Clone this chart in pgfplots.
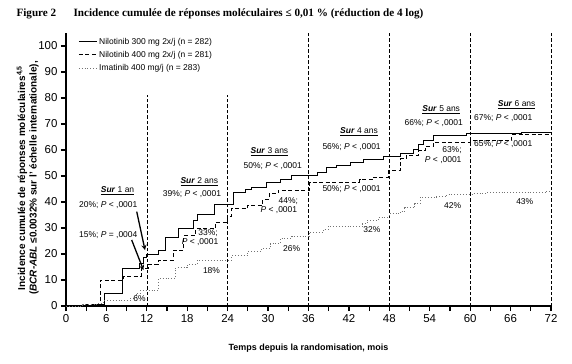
\documentclass[border=0pt]{standalone}
\usepackage{pgfplots}
\pgfplotsset{compat=1.18}
\usepackage{fontspec}
\setmainfont{Liberation Sans}
\newfontfamily\titlefont{Liberation Serif}
\definecolor{imag}{gray}{0.45}
\newcommand{\ann}{\fontsize{8.5}{10}\selectfont}
\newcommand{\sur}[1]{\underline{\textbf{\textit{Sur}} #1}}
\begin{document}
\begin{tikzpicture}
\useasboundingbox (-66bp,-58bp) rectangle (506bp,306bp);
\begin{axis}[
  at={(0,0)}, anchor=south west,
  scale only axis, width=485bp, height=273bp,
  xmin=0, xmax=72, ymin=0, ymax=105,
  axis x line=bottom, axis y line=left,
  axis line style={-, line width=1.4pt},
  xtick={0,6,...,72}, minor xtick={3,9,...,69},
  ytick={0,10,...,100},
  tick align=outside,
  major tick length=5bp, minor tick length=5bp,
  tick style={line width=1.2pt, black},
  /pgf/number format/assume math mode=true,
  tick label style={font=\fontsize{11.5}{12}\selectfont},
  xlabel={\textbf{Temps depuis la randomisation, mois}},
  xlabel style={font=\fontsize{9}{10}\selectfont, at={(axis description cs:0.5,0)}, anchor=north, yshift=-34bp},
  clip=false,
  legend style={at={(0.025,0.99)}, anchor=north west, draw=none, fill=none,
    font=\fontsize{8.5}{10}\selectfont, row sep=1.5pt, inner sep=0pt,
    nodes={inner sep=2pt}},
  legend cell align=left,
  legend image code/.code={\draw[#1] (0bp,0bp) -- (18bp,0bp);},
]
\draw[black, line width=0.6pt, dash pattern=on 3.5bp off 2bp] (axis cs:12,0) -- (axis cs:12,81);
\draw[black, line width=0.6pt, dash pattern=on 3.5bp off 2bp] (axis cs:24,0) -- (axis cs:24,81);
\foreach \xv in {36,48,60,72}{
  \edef\tmp{\noexpand\draw[black, line width=0.6pt, dash pattern=on 3.5bp off 2bp] (axis cs:\xv,0) -- (axis cs:\xv,105);}
  \tmp
}
\addplot[const plot, black, line width=0.9pt] coordinates {
(0,0) (4,0.7) (5.7,5) (8.4,14.4) (10.9,16.5) (11.5,18.5) (11.9,20) (13.7,21.4) (14.8,26.2) (16.7,29.7) (18.9,33) (19.5,35.4) (22.1,39) (24.8,43.6) (26.6,45) (27.5,45.5) (29.8,47.6) (31.8,48.7) (33.5,50.2) (37.3,51.5) (38.7,53.1) (40.2,54) (42.2,55.3) (44.2,56.2) (47.1,57.5) (49.6,58.7) (51.6,60.4) (52.3,62.3) (53.1,63.6) (54.5,65.5) (59.5,66.2) (67.6,66.8) (72,66.8)};
\addlegendentry{Nilotinib 300 mg 2x/j (n = 282)}
\addplot[const plot, black, line width=0.9pt, dash pattern=on 4bp off 2.5bp] coordinates {
(0,0) (3,0.5) (5.1,10) (8.6,11.5) (11.2,14.5) (12.2,16) (13.7,17.6) (15.9,21.5) (17.5,27) (19.2,29.7) (22.2,32.2) (23.9,34.5) (24.5,37.5) (27,38.7) (29.2,41) (30.2,43.2) (31.5,44.5) (36.2,47.6) (43.6,48.5) (45.6,49.5) (47.9,52.1) (49.6,56.6) (50.5,57.9) (52.3,59.8) (53.3,61.5) (54.5,62.9) (60,63.6) (66.2,65.9) (72,65.9)};
\addlegendentry{Nilotinib 400 mg 2x/j (n = 281)}
\addplot[const plot, imag, line width=0.9pt, dotted] coordinates {
(0,0) (2.5,0.5) (4.5,1) (5.5,2) (9.5,3) (10.4,5) (11,6) (13.7,10.6) (16.3,14.8) (18,16) (19.5,17.6) (24.6,19.4) (27,21) (29,22) (30.3,23.9) (31.8,26) (33.5,26.8) (36.1,28.3) (38.2,29.4) (38.9,30.6) (44,31.7) (44.7,33) (46.4,34.2) (48,35.5) (49.6,36.5) (50.3,37.8) (51.8,39.3) (52.6,41.9) (55,42.1) (56.5,42.9) (60.5,43.2) (62.5,43.6) (71.3,44.2) (72,44.2)};
\addlegendentry{Imatinib 400 mg/j (n = 283)}
% annotations
\node[font=\ann] at (axis cs:7.65,44.3) {\sur{1 an}};
\node[font=\ann] at (axis cs:6.28,38.8) {20\%; \textit{P} < ,0001};
\node[font=\ann] at (axis cs:6.28,27.3) {15\%; \textit{P} = ,0004};
\draw[-stealth, line width=1.3pt] (axis cs:10.5,36.3) -- (axis cs:11.73,21.5);
\draw[-stealth, line width=1.3pt] (axis cs:9.75,25.4) -- (axis cs:11.5,13.8);
\node[font=\ann] at (axis cs:10.9,3) {6\%};
\node[font=\ann] at (axis cs:19.8,47.8) {\sur{2 ans}};
\node[font=\ann] at (axis cs:18.7,43.1) {39\%; \textit{P} < ,0001};
\node[font=\ann] at (axis cs:21.1,28.2) {33\%;};
\node[font=\ann] at (axis cs:19.9,24.7) {\textit{P} < ,0001};
\node[font=\ann] at (axis cs:21.6,13.8) {18\%};
\node[font=\ann] at (axis cs:30.2,59.3) {\sur{3 ans}};
\node[font=\ann] at (axis cs:30.7,54) {50\%; \textit{P} < ,0001};
\node[font=\ann] at (axis cs:33,40.4) {44\%;};
\node[font=\ann] at (axis cs:31.6,36.9) {\textit{P} < ,0001};
\node[font=\ann] at (axis cs:33.5,22.2) {26\%};
\node[font=\ann] at (axis cs:43.5,67) {\sur{4 ans}};
\node[font=\ann] at (axis cs:42.4,61.3) {56\%; \textit{P} < ,0001};
\node[font=\ann] at (axis cs:42.4,44.9) {50\%; \textit{P} < ,0001};
\node[font=\ann] at (axis cs:45.4,29.2) {32\%};
\node[font=\ann] at (axis cs:55.7,75.6) {\sur{5 ans}};
\node[font=\ann] at (axis cs:54.6,70.3) {66\%; \textit{P} < ,0001};
\node[font=\ann] at (axis cs:57.3,60) {63\%;};
\node[font=\ann] at (axis cs:56,56.2) {\textit{P} < ,0001};
\node[font=\ann] at (axis cs:57.4,38.5) {42\%};
\node[font=\ann] at (axis cs:66.9,77.3) {\sur{6 ans}};
\node[font=\ann] at (axis cs:64.9,72.4) {67\%; \textit{P} < ,0001};
\node[font=\ann] at (axis cs:64.9,62.3) {65\%; \textit{P} < ,0001};
\node[font=\ann] at (axis cs:68.1,40.1) {43\%};
\end{axis}
% y label (two lines)
\node[rotate=90, font=\fontsize{10}{11}\selectfont\bfseries] at (-44bp,128bp) {Incidence cumulée de réponses moléculaires\textsuperscript{4,5}};
\node[rotate=90, font=\fontsize{10}{11}\selectfont\bfseries] at (-32bp,128bp) {(\textit{BCR-ABL} ≤0.0032\% sur l’ échelle internationale),};
% title
\node[anchor=west, font=\fontsize{11.2}{12}\selectfont\titlefont\bfseries] at (-53bp,292bp) {Figure 2};
\node[anchor=west, font=\fontsize{11.2}{12}\selectfont\titlefont\bfseries] at (4bp,292bp) {Incidence cumulée de réponses moléculaires ≤ 0,01 \% (réduction de 4 log)};
\end{tikzpicture}
\end{document}
